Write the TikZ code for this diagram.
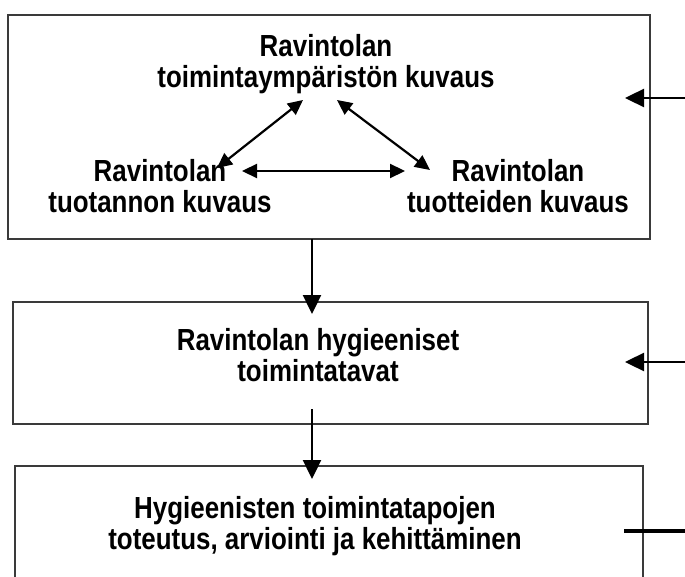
\documentclass[tikz,border=0pt]{standalone}
\usepackage{fontspec}
\usepackage{tikz}
\usetikzlibrary{arrows.meta}
\newfontfamily\hyfont[FakeStretch=0.85]{Liberation Sans}
\definecolor{hyframe}{HTML}{3A3A3A}
\definecolor{hyink}{HTML}{000000}
\tikzset{
  frame/.style={draw=hyframe,line width=2pt,inner sep=0pt,outer sep=0pt},
  openframe/.style={inner sep=0pt,outer sep=0pt},
  txt/.style={align=center,inner sep=0pt,text=hyink,
              font=\hyfont\bfseries\fontsize{30.5}{31}\selectfont},
  ar/.style={-{Triangle[length=19pt,width=18pt]},line width=2.4pt,hyink},
  arr/.style={{Triangle[length=15pt,width=14pt]}-{Triangle[length=15pt,width=14pt]},line width=2.2pt,hyink},
  feed/.style={line width=3.4pt,hyink},
}
\begin{document}
\begin{tikzpicture}[x=1pt,y=-1pt]
    \useasboundingbox (0,0) rectangle (685,577);
    \node[frame,minimum width=642pt,minimum height=224pt] (b1) at (329,127) {};
    \node[frame,minimum width=635pt,minimum height=122pt] (b2) at (330.5,363) {};
    \node[openframe,minimum width=628pt,minimum height=111pt] (b3) at (329,521.5) {};
    \draw[draw=hyframe,line width=2pt]
      (b3.south west)--(b3.north west)--(b3.north east)--(b3.south east);
    \node[txt] (t) at (326,64) {Ravintolan\\toimintaympäristön kuvaus};
    \node[txt] (l) at (160,186) {Ravintolan\\tuotannon kuvaus};
    \node[txt] (r) at (518,186) {Ravintolan\\tuotteiden kuvaus};
    \node[txt] (h) at (318,355) {Ravintolan hygieeniset\\toimintatavat};
    \node[txt] (k) at (315,526) {Hygieenisten toimintatapojen\\toteutus, arviointi ja kehittäminen};
    \coordinate (in1) at (685,98);  \coordinate (to1) at (625,98);
    \coordinate (in2) at (685,362); \coordinate (to2) at (625,362);
    \coordinate (in3) at (685,531); \coordinate (to3) at (624,531);
    \draw[arr]([shift={(-23,36)}]t.center)--([shift={(57,-18)}]l.center);
    \draw[arr]([shift={(11,36)}]t.center)--([shift={(-88,-16)}]r.center);
    \draw[arr]([shift={(82,-15)}]l.center)--([shift={(-113,-15)}]r.center);
    \draw[ar]([xshift=-17pt]b1.south)--([xshift=-18.5pt,yshift=-12pt]b2.north);
    \draw[ar]([xshift=-18.5pt,yshift=15pt]b2.south)--([xshift=-17pt,yshift=-13pt]b3.north);
    \draw[ar](in1)--(to1);
    \draw[ar](in2)--(to2);
    \draw[feed](in3)--(to3);
  \end{tikzpicture}
\end{document}
